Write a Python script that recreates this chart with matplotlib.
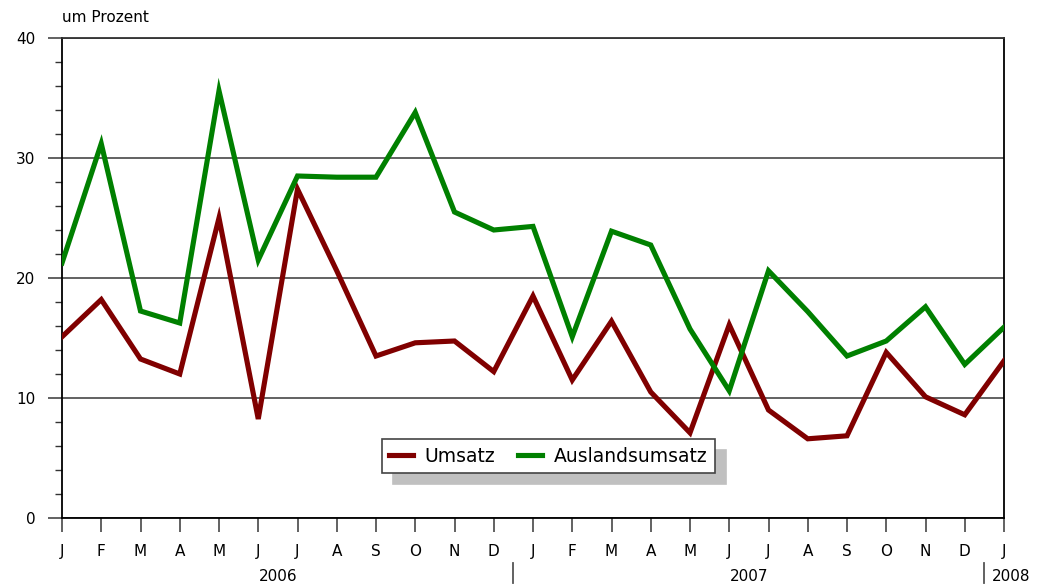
import matplotlib
matplotlib.use("Agg")
import matplotlib.pyplot as plt
from matplotlib.lines import Line2D
from matplotlib.ticker import MultipleLocator

plt.rcParams['font.family'] = ['DejaVu Sans']

months = ["J", "F", "M", "A", "M", "J", "J", "A", "S", "O", "N", "D",
          "J", "F", "M", "A", "M", "J", "J", "A", "S", "O", "N", "D", "J"]
years = ["2006", "2007", "2008"]

umsatz = [15.1, 18.2, 13.25, 12.0, 25.0, 8.25, 27.4, 20.6, 13.5, 14.6, 14.75, 12.2,
          18.5, 11.5, 16.4, 10.5, 7.1, 16.1, 9.0, 6.6, 6.85, 13.8, 10.1, 8.6, 13.1]
ausland = [21.25, 31.2, 17.25, 16.25, 35.6, 21.5, 28.5, 28.4, 28.4, 33.8, 25.5, 24.0,
           24.3, 15.1, 23.9, 22.75, 15.75, 10.6, 20.6, 17.2, 13.5, 14.75, 17.6, 12.8, 15.9]

fig = plt.figure(figsize=(10.41, 5.84), dpi=100)
ax = fig.add_axes([62/1041, 1-518/584, (1004-62)/1041, 480/584])

x = list(range(len(months)))
ax.plot(x, umsatz, color="#800000", lw=3.7, label="Umsatz", solid_joinstyle="miter", zorder=3)
ax.plot(x, ausland, color="#008000", lw=3.7, label="Auslandsumsatz", solid_joinstyle="miter", zorder=3)

ax.set_xlim(0, 24)
ax.set_ylim(0, 40)

ax.yaxis.set_major_locator(MultipleLocator(10))
ax.yaxis.set_minor_locator(MultipleLocator(2))
ax.tick_params(axis="y", which="major", length=10, width=1.3, color="#555555",
               labelsize=11, pad=9)
ax.tick_params(axis="y", which="minor", length=5, width=1.0, color="#333333")
ax.grid(axis="y", which="major", color="#555555", lw=1.3, zorder=1)

ax.set_xticks(x)
ax.set_xticklabels(months)
ax.tick_params(axis="x", which="major", length=10, width=1.3, color="#555555",
               labelsize=11, pad=9)

for s in ["left", "right", "bottom"]:
    ax.spines[s].set_color("black")
    ax.spines[s].set_linewidth(1.3)
ax.spines["top"].set_color("#333333")
ax.spines["top"].set_linewidth(1.3)

ax.text(0.0, 1.042, "um Prozent", transform=ax.transAxes, fontsize=11,
        ha="left", va="center")

xt = ax.get_xaxis_transform()
ax.text(5.5, -0.121, years[0], transform=xt, ha="center", va="center", fontsize=11)
ax.text(17.5, -0.121, years[1], transform=xt, ha="center", va="center", fontsize=11)
ax.text(23.68, -0.121, years[2], transform=xt, ha="left", va="center", fontsize=11)
for xs in [11.5, 23.5]:
    ax.add_line(Line2D([xs, xs], [-0.094, -0.135], transform=xt, color="#555555",
                       lw=1.3, clip_on=False))

leg = ax.legend(loc="center", bbox_to_anchor=(548/1041, 1-456/584),
                bbox_transform=fig.transFigure, ncol=2, fontsize=13.5,
                frameon=True, fancybox=False, framealpha=1, edgecolor="#444444",
                handlelength=1.3, handletextpad=0.6, columnspacing=1.2,
                borderpad=0.4, borderaxespad=0,
                shadow={"ox": 8, "oy": -8, "color": "#c0c0c0", "alpha": 1})
leg.get_frame().set_linewidth(1.2)
leg.set_zorder(5)

fig.savefig("out.png", dpi=100)
